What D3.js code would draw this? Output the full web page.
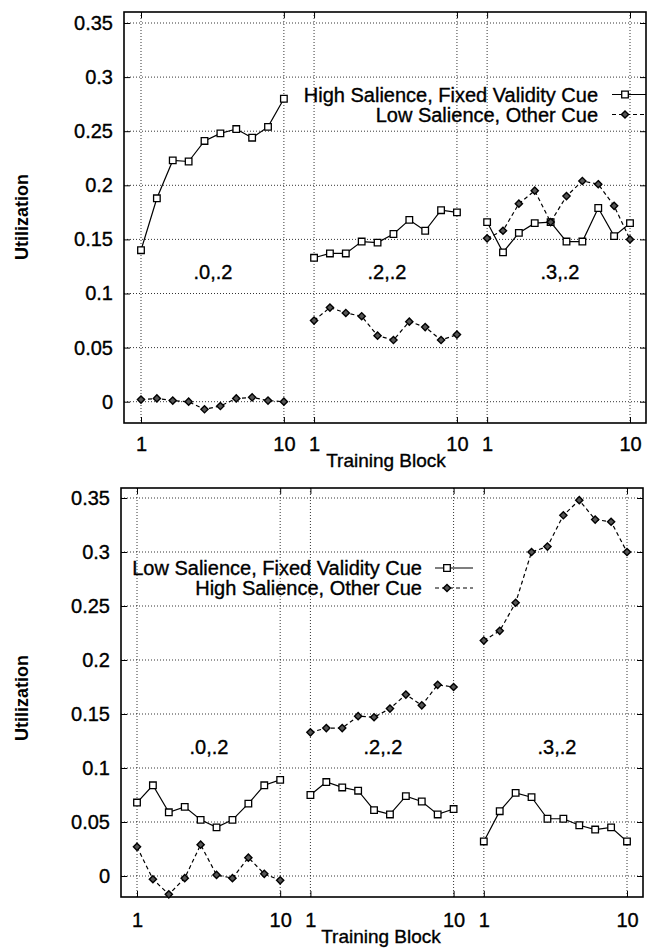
<!DOCTYPE html>
<html>
<head>
<meta charset="utf-8">
<script src="https://cdn.jsdelivr.net/npm/d3@7"></script>
<style>
  html, body { margin: 0; padding: 0; background: #fff; }
  svg { display: block; font-family: "Liberation Sans", Arial, Helvetica, sans-serif; }
</style>
</head>
<body>
<svg id="chart" width="650" height="950"></svg>
<script>
// ---------------- DATA ----------------
const blocks = [1, 2, 3, 4, 5, 6, 7, 8, 9, 10];
const segmentLabels = [".0,.2", ".2,.2", ".3,.2"];
const xTickLabels = ["1", "10"];
const yTicks = [0, 0.05, 0.1, 0.15, 0.2, 0.25, 0.3, 0.35];
const yTickLabels = ["0", "0.05", "0.1", "0.15", "0.2", "0.25", "0.3", "0.35"];

// Top panel
const topLegend = ["High Salience, Fixed Validity Cue", "Low Salience, Other Cue"];
const topFixedSeg1 = [0.140, 0.188, 0.223, 0.222, 0.241, 0.248, 0.252, 0.244, 0.254, 0.280];
const topFixedSeg2 = [0.133, 0.137, 0.137, 0.148, 0.147, 0.155, 0.168, 0.158, 0.177, 0.175];
const topFixedSeg3 = [0.166, 0.138, 0.156, 0.165, 0.166, 0.148, 0.148, 0.179, 0.153, 0.165];
const topOtherSeg1 = [0.002, 0.003, 0.001, 0.000, -0.007, -0.004, 0.003, 0.004, 0.001, 0.000];
const topOtherSeg2 = [0.075, 0.087, 0.082, 0.079, 0.061, 0.057, 0.074, 0.069, 0.057, 0.062];
const topOtherSeg3 = [0.151, 0.158, 0.183, 0.195, 0.166, 0.190, 0.204, 0.201, 0.181, 0.150];

// Bottom panel
const bottomLegend = ["Low Salience, Fixed Validity Cue", "High Salience, Other Cue"];
const bottomFixedSeg1 = [0.068, 0.084, 0.059, 0.064, 0.052, 0.045, 0.052, 0.067, 0.084, 0.089];
const bottomFixedSeg2 = [0.075, 0.087, 0.082, 0.079, 0.061, 0.057, 0.074, 0.069, 0.057, 0.062];
const bottomFixedSeg3 = [0.032, 0.060, 0.077, 0.073, 0.053, 0.053, 0.047, 0.043, 0.045, 0.032];
const bottomOtherSeg1 = [0.027, -0.003, -0.017, -0.002, 0.029, 0.001, -0.002, 0.017, 0.002, -0.004];
const bottomOtherSeg2 = [0.133, 0.137, 0.137, 0.148, 0.147, 0.155, 0.168, 0.158, 0.177, 0.175];
const bottomOtherSeg3 = [0.218, 0.227, 0.253, 0.300, 0.305, 0.334, 0.348, 0.330, 0.328, 0.300];

// ---------------- LAYOUT ----------------
const SEG_OFFSET = 10.9;   // segments placed side by side on one axis
const FONT = 20;
const TEXT_STROKE = 0.35;

const panels = [
  {
    fixed: [topFixedSeg1, topFixedSeg2, topFixedSeg3],
    other: [topOtherSeg1, topOtherSeg2, topOtherSeg3],
    legend: topLegend,
    left: 124, right: 646, top: 12, bottom: 423,
    x1: 141, x2: 630, yZero: 401.7, yTop: 23,
    legendRight: 598, legendY: [94.5, 114.5], legendLine: [612, 646], legendSym: 625,
    xLabelPad: 14, xTitleY: 467, xTitleX: 386,
    yTitleY: 217, segLabelY: 272, segLabelX: [213, 387, 560]
  },
  {
    fixed: [bottomFixedSeg1, bottomFixedSeg2, bottomFixedSeg3],
    other: [bottomOtherSeg1, bottomOtherSeg2, bottomOtherSeg3],
    legend: bottomLegend,
    left: 121, right: 643, top: 488, bottom: 897,
    x1: 137, x2: 627, yZero: 876, yTop: 498,
    legendRight: 422, legendY: [568, 588], legendLine: [435, 473], legendSym: 447,
    xLabelPad: 16, xTitleY: 943, xTitleX: 381,
    yTitleY: 698, segLabelY: 747, segLabelX: [209, 383, 557]
  }
];

const svg = d3.select("#chart");

function squarePath(s) {
  return `M${-s},${-s}H${s}V${s}H${-s}Z`;
}
function diamondPath(s) {
  return `M0,${-s}L${s},0L0,${s}L${-s},0Z`;
}
function heavy(sel) {
  return sel.attr("fill", "#000").attr("stroke", "#000").attr("stroke-width", TEXT_STROKE);
}

panels.forEach(p => {
  const g = svg.append("g");
  const lastU = 2 * SEG_OFFSET + 9;
  const x = d3.scaleLinear().domain([0, lastU]).range([p.x1, p.x2]);
  const y = d3.scaleLinear().domain([0, 0.35]).range([p.yZero, p.yTop]);
  const u = (seg, b) => seg * SEG_OFFSET + (b - 1);

  const xTickVals = [];
  [0, 1, 2].forEach(s => { xTickVals.push(u(s, 1)); xTickVals.push(u(s, 10)); });

  // grid (dotted)
  const grid = g.append("g").attr("stroke", "#000").attr("stroke-width", 0.8)
    .attr("stroke-dasharray", "1,2");
  yTicks.forEach(v => {
    grid.append("line").attr("x1", p.left).attr("x2", p.right)
      .attr("y1", y(v)).attr("y2", y(v));
  });
  xTickVals.forEach(v => {
    grid.append("line").attr("x1", x(v)).attr("x2", x(v))
      .attr("y1", p.top).attr("y2", p.bottom);
  });

  // y axis (left and right, inward ticks)
  const yAxisL = d3.axisLeft(y).tickValues(yTicks)
    .tickFormat((d, i) => yTickLabels[i]).tickSize(-6).tickPadding(11);
  const gyl = g.append("g").attr("transform", `translate(${p.left},0)`).call(yAxisL);
  const yAxisR = d3.axisRight(y).tickValues(yTicks).tickFormat("").tickSize(-6);
  const gyr = g.append("g").attr("transform", `translate(${p.right},0)`).call(yAxisR);

  // x axis (bottom and top, inward ticks)
  const xAxisB = d3.axisBottom(x).tickValues(xTickVals)
    .tickFormat((d, i) => xTickLabels[i % 2]).tickSize(-6).tickPadding(p.xLabelPad);
  const gxb = g.append("g").attr("transform", `translate(0,${p.bottom})`).call(xAxisB);
  const xAxisT = d3.axisTop(x).tickValues(xTickVals).tickFormat("").tickSize(-6);
  const gxt = g.append("g").attr("transform", `translate(0,${p.top})`).call(xAxisT);

  [gyl, gyr, gxb, gxt].forEach(a => {
    a.select(".domain").remove();
    a.selectAll(".tick line").attr("stroke", "#000").attr("stroke-width", 1);
    heavy(a.selectAll(".tick text").attr("font-size", FONT)
      .attr("font-family", "'Liberation Sans', Arial, sans-serif"));
  });

  // frame
  g.append("rect").attr("x", p.left).attr("y", p.top)
    .attr("width", p.right - p.left).attr("height", p.bottom - p.top)
    .attr("fill", "none").attr("stroke", "#000").attr("stroke-width", 1.6);

  // segment labels
  segmentLabels.forEach((t, i) => {
    heavy(g.append("text").attr("x", p.segLabelX[i]).attr("y", p.segLabelY)
      .attr("dy", "0.35em").attr("text-anchor", "middle")
      .attr("font-size", FONT).text(t));
  });

  // series
  const line = d3.line().x(d => x(d.u)).y(d => y(d.v));
  const mk = (vals, seg) => vals.map((v, i) => ({ u: u(seg, blocks[i]), v }));

  p.fixed.forEach((vals, seg) => {
    const pts = mk(vals, seg);
    g.append("path").datum(pts).attr("d", line).attr("fill", "none")
      .attr("stroke", "#000").attr("stroke-width", 1.2);
    g.selectAll(null).data(pts).enter().append("path")
      .attr("transform", d => `translate(${x(d.u)},${y(d.v)})`)
      .attr("d", squarePath(3.3)).attr("fill", "#fff")
      .attr("stroke", "#000").attr("stroke-width", 1.3);
  });
  p.other.forEach((vals, seg) => {
    const pts = mk(vals, seg);
    g.append("path").datum(pts).attr("d", line).attr("fill", "none")
      .attr("stroke", "#000").attr("stroke-width", 1.2).attr("stroke-dasharray", "4,3");
    g.selectAll(null).data(pts).enter().append("path")
      .attr("transform", d => `translate(${x(d.u)},${y(d.v)})`)
      .attr("d", diamondPath(3.6)).attr("fill", "#555")
      .attr("stroke", "#000").attr("stroke-width", 1.4);
  });

  // legend
  p.legend.forEach((t, i) => {
    const ly = p.legendY[i];
    heavy(g.append("text").attr("x", p.legendRight).attr("y", ly).attr("dy", "0.35em")
      .attr("text-anchor", "end").attr("font-size", FONT).text(t));
    g.append("line").attr("x1", p.legendLine[0]).attr("x2", p.legendLine[1])
      .attr("y1", ly).attr("y2", ly).attr("stroke", "#000").attr("stroke-width", 1.2)
      .attr("stroke-dasharray", i === 0 ? null : "4,3");
    g.append("path").attr("transform", `translate(${p.legendSym},${ly})`)
      .attr("d", i === 0 ? squarePath(3.3) : diamondPath(3.6))
      .attr("fill", i === 0 ? "#fff" : "#555").attr("stroke", "#000")
      .attr("stroke-width", i === 0 ? 1.3 : 1.4);
  });

  // axis titles
  heavy(g.append("text").attr("x", p.xTitleX).attr("y", p.xTitleY)
    .attr("text-anchor", "middle").attr("font-size", 19).text("Training Block"));
  g.append("text").attr("transform", `translate(22,${p.yTitleY}) rotate(-90)`)
    .attr("dy", "0.35em").attr("text-anchor", "middle")
    .attr("font-size", 18).attr("font-weight", "bold").text("Utilization");
});
</script>
</body>
</html>
